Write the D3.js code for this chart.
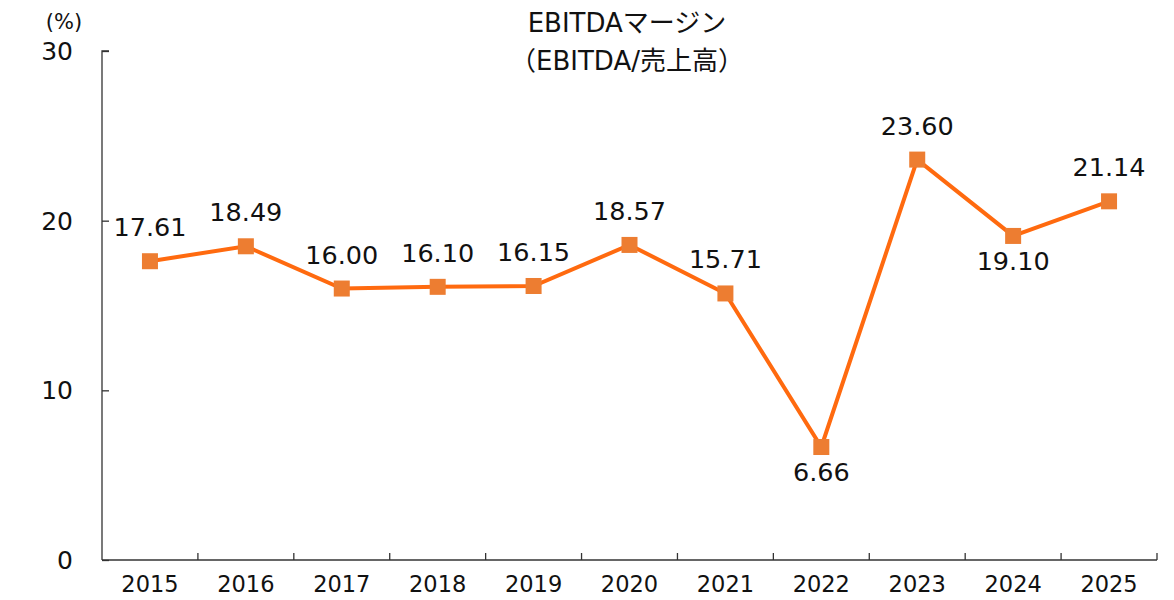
<!DOCTYPE html>
<html>
<head>
<meta charset="utf-8">
<script src="https://cdn.jsdelivr.net/npm/d3@7"></script>
<style>
  body { margin: 0; background: #fff; }
  text { font-family: "DejaVu Sans", "Noto Sans CJK JP", sans-serif; fill: #111; }
</style>
</head>
<body>
<div id="chart"></div>
<script>
'use strict';

const years = ['2015', '2016', '2017', '2018', '2019', '2020', '2021', '2022', '2023', '2024', '2025'];
const margin = [17.61, 18.49, 16.00, 16.10, 16.15, 18.57, 15.71, 6.66, 23.60, 19.10, 21.14];
const below = ['2022', '2024'];
const yTicks = [0, 10, 20, 30];

const width = 1174, height = 600;

let svg = d3.select('#chart')
  .append('svg')
    .attr('width', width)
    .attr('height', height);

let x = d3.scaleBand()
  .domain(years)
  .range([102, 1157]);

let y = d3.scaleLinear()
  .domain([0, 30])
  .range([560, 51]);

// y axis, ticks point inward
let yAxis = svg.append('g')
  .attr('transform', 'translate(102,0)')
  .call(d3.axisRight(y).tickValues(yTicks).tickSize(7).tickFormat(''));
yAxis.selectAll('path, line').attr('stroke', '#333').attr('stroke-width', 1.3);
yAxis.select('.domain').attr('d', 'M7,51H0V560');

svg.selectAll('.ylab')
  .data(yTicks)
  .enter().append('text')
    .attr('class', 'ylab')
    .attr('x', 73)
    .attr('y', d => y(d) + 9)
    .attr('text-anchor', 'end')
    .style('font-size', '25px')
    .text(d => d);

// x axis, ticks at band boundaries pointing up
let xAxis = svg.append('g')
  .attr('transform', 'translate(0,560)');
xAxis.append('line')
  .attr('x1', 102).attr('x2', 1157)
  .attr('stroke', '#333').attr('stroke-width', 1.3);
xAxis.selectAll('.tk')
  .data(years)
  .enter().append('line')
    .attr('x1', d => x(d) + x.bandwidth())
    .attr('x2', d => x(d) + x.bandwidth())
    .attr('y1', 0).attr('y2', -7)
    .attr('stroke', '#333').attr('stroke-width', 1.3);
xAxis.selectAll('.xlab')
  .data(years)
  .enter().append('text')
    .attr('x', d => x(d) + x.bandwidth() / 2)
    .attr('y', 32)
    .attr('text-anchor', 'middle')
    .style('font-size', '22.5px')
    .text(d => d);

let cx = (d, i) => x(years[i]) + x.bandwidth() / 2;

let line = d3.line()
  .x((d, i) => cx(d, i))
  .y(d => y(d));

svg.append('path')
  .datum(margin)
  .attr('d', line)
  .attr('fill', 'none')
  .attr('stroke', '#FF6A0F')
  .attr('stroke-width', 4);

svg.selectAll('.pt')
  .data(margin)
  .enter().append('rect')
    .attr('x', (d, i) => cx(d, i) - 8)
    .attr('y', d => y(d) - 8)
    .attr('width', 16)
    .attr('height', 16)
    .attr('fill', '#ED7D31');

svg.selectAll('.vlab')
  .data(margin)
  .enter().append('text')
    .attr('x', (d, i) => cx(d, i))
    .attr('y', (d, i) => below.includes(years[i]) ? y(d) + 34 : y(d) - 25)
    .attr('text-anchor', 'middle')
    .style('font-size', '25.5px')
    .text(d => d.toFixed(2));

// titles
svg.append('text')
  .attr('x', 627).attr('y', 32)
  .attr('text-anchor', 'middle')
  .style('font-size', '26px')
  .text('EBITDAマージン');
svg.append('text')
  .attr('x', 627).attr('y', 70)
  .attr('text-anchor', 'middle')
  .style('font-size', '26px')
  .text('（EBITDA/売上高）');
svg.append('text')
  .attr('x', 64).attr('y', 29)
  .attr('text-anchor', 'middle')
  .style('font-size', '21px')
  .text('(%)');
</script>
</body>
</html>
